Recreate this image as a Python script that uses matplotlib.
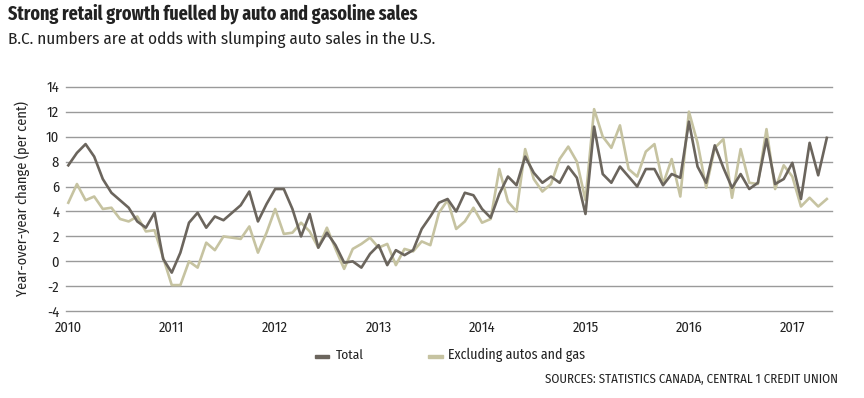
import matplotlib
matplotlib.use("Agg")
import matplotlib.pyplot as plt
from matplotlib import font_manager as fm
import numpy as np

# Monthly data, Jan 2010 - May 2017
total = [7.7, 8.7, 9.4, 8.4, 6.6, 5.5, 4.9, 4.3, 3.2, 2.7, 3.9, 0.2,
         -0.9, 0.7, 3.1, 3.9, 2.7, 3.6, 3.3, 3.9, 4.5, 5.6, 3.2, 4.6,
         5.8, 5.8, 4.2, 2.0, 3.8, 1.1, 2.3, 1.3, -0.1, 0.0, -0.5, 0.6,
         1.3, -0.3, 0.9, 0.5, 0.9, 2.6, 3.6, 4.7, 5.0, 4.0, 5.5, 5.3,
         4.2, 3.5, 5.4, 6.8, 6.1, 8.4, 7.1, 6.3, 6.8, 6.3, 7.6, 6.7,
         3.8, 10.8, 7.0, 6.3, 7.6, 6.8, 6.0, 7.4, 7.4, 6.1, 7.0, 6.7,
         11.2, 7.6, 6.3, 9.3, 7.5, 5.9, 7.0, 5.8, 6.3, 9.8, 6.2, 6.6,
         7.9, 5.0, 9.5, 6.9, 9.9]
excl = [4.7, 6.2, 4.9, 5.2, 4.2, 4.3, 3.4, 3.2, 3.6, 2.4, 2.5, 0.3,
        -1.9, -1.9, 0.0, -0.5, 1.5, 0.9, 2.0, 1.9, 1.8, 2.8, 0.7, 2.3,
        4.2, 2.2, 2.3, 3.1, 2.4, 1.1, 2.7, 1.0, -0.6, 1.0, 1.4, 1.9,
        1.1, 1.4, -0.3, 1.0, 0.8, 1.6, 1.3, 3.9, 4.9, 2.6, 3.2, 4.3,
        3.1, 3.4, 7.4, 4.8, 4.0, 9.0, 6.6, 5.6, 6.2, 8.2, 9.2, 8.0,
        4.9, 12.2, 10.0, 9.1, 10.9, 7.4, 6.8, 8.8, 9.4, 6.2, 8.2, 5.2,
        12.0, 9.5, 5.9, 9.1, 9.8, 5.1, 9.0, 6.3, 6.2, 10.6, 5.8, 7.7,
        6.8, 4.4, 5.1, 4.4, 5.0]
years = ["2010", "2011", "2012", "2013", "2014", "2015", "2016", "2017"]
yticks = [-4, -2, 0, 2, 4, 6, 8, 10, 12, 14]
series_names = ["Total", "Excluding autos and gas"]

names = {f.name for f in fm.fontManager.ttflist}


def pick(cands):
    for c in cands:
        if c in names:
            return c
    return "DejaVu Sans"


title_font = pick(["Fira Sans Extra Condensed", "Barlow Condensed", "Roboto Condensed",
                   "Fira Sans Condensed", "Archivo Narrow", "PT Sans Narrow",
                   "Liberation Sans Narrow", "Lato"])
body_font = pick(["Fira Sans Condensed", "Barlow Semi Condensed", "Roboto Condensed",
                  "Archivo Narrow", "PT Sans Narrow", "Liberation Sans Narrow", "Lato"])
tick_font = pick(["Fira Sans Condensed", "Barlow Semi Condensed", "Roboto Condensed", "Lato"])

C_TOTAL = "#6b655d"
C_EXCL = "#c6c3a1"
GRID = "#9a9a9a"
TXT = "#222222"

W, H = 864, 398
fig = plt.figure(figsize=(W / 100, H / 100), dpi=100)
ax = fig.add_axes([66 / W, 1 - 311.3 / H, (832 - 66) / W, (311.3 - 86.7) / H])

x = np.arange(len(total))
ax.plot(x, excl, color=C_EXCL, lw=1.9, zorder=3)
ax.plot(x, total, color=C_TOTAL, lw=1.9, zorder=4)

ax.set_ylim(-4, 14)
ax.set_xlim(-0.27, 88.6)
ax.set_yticks(yticks)
ax.set_yticklabels([str(v) for v in yticks])
ax.set_xticks([12 * i for i in range(len(years))])
ax.set_xticklabels(years)
ax.tick_params(axis="both", length=0, labelcolor=TXT)
ax.tick_params(axis="y", pad=5)
ax.tick_params(axis="x", pad=7)
ax.grid(axis="y", color=GRID, lw=1.0)
for gl in ax.get_ygridlines():
    gl.set_clip_on(False)
ax.set_axisbelow(True)
for s in ax.spines.values():
    s.set_visible(False)
for lab in ax.get_xticklabels() + ax.get_yticklabels():
    lab.set_family(tick_font)
    lab.set_fontsize(10.5)

ylab = ax.set_ylabel("Year-over-year change (per cent)", fontsize=10, color=TXT,
                     family=tick_font)
ax.yaxis.set_label_coords(-(66 - 30) / (832 - 66), 0.5)

t_title = fig.text(8 / W, 1 - 14 / H, "Strong retail growth fuelled by auto and gasoline sales",
                   fontsize=15, fontweight="bold", family=title_font, color=TXT,
                   va="center", ha="left")
t_sub = fig.text(8 / W, 1 - 40 / H, "B.C. numbers are at odds with slumping auto sales in the U.S.",
                 fontsize=12.5, family=body_font, color=TXT, va="center", ha="left")

# legend
ly = 1 - 355 / H
fig.patches.append(plt.Rectangle((315 / W, 1 - 358 / H), 14 / W, 3 / H, color=C_TOTAL,
                                 transform=fig.transFigure, figure=fig))
t_l1 = fig.text(336 / W, ly, series_names[0], fontsize=11, family=body_font, color=TXT,
                va="center")
fig.patches.append(plt.Rectangle((428 / W, 1 - 358 / H), 15 / W, 3 / H, color=C_EXCL,
                                 transform=fig.transFigure, figure=fig))
t_l2 = fig.text(448 / W, ly, series_names[1], fontsize=11, family=body_font, color=TXT,
                va="center")

t_src = fig.text(838 / W, 1 - 379 / H, "SOURCES: STATISTICS CANADA, CENTRAL 1 CREDIT UNION",
                 fontsize=9.5, family=body_font, color=TXT, va="center", ha="right")

# fit text lengths to reference lengths (pixels)
fig.canvas.draw()
r = fig.canvas.get_renderer()


def fit(t, target, vertical=False, lo=6, hi=20):
    bb = t.get_window_extent(r)
    w = bb.height if vertical else bb.width
    if w > 0:
        t.set_fontsize(min(hi, max(lo, t.get_fontsize() * target / w)))


fit(t_title, 410)
fit(t_sub, 428)
fit(t_l1, 28)
fit(t_l2, 137)
fit(t_src, 293)
fit(ylab, 194, vertical=True)
lab2010 = ax.get_xticklabels()[0]
w2010 = lab2010.get_window_extent(r).width
if w2010 > 0:
    fs = min(13, max(7, lab2010.get_fontsize() * 27 / w2010))
    for lab in ax.get_xticklabels() + ax.get_yticklabels():
        lab.set_fontsize(fs)

fig.savefig("out.png", dpi=100, facecolor="white")
